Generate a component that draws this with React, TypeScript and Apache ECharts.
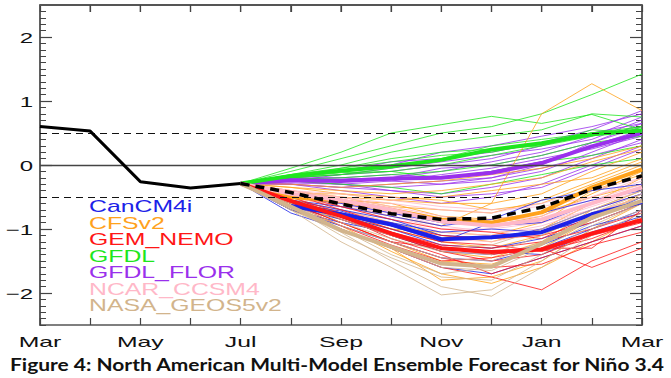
import React, { useEffect, useRef } from "react";
import * as echarts from "echarts";

const monthNames = ["Mar", "Apr", "May", "Jun", "Jul", "Aug", "Sep", "Oct", "Nov", "Dec", "Jan", "Feb", "Mar"];
const xLabelIdx = [0, 2, 4, 6, 8, 10, 12];
const yTickValues = [-2, -1, 0, 1, 2];
const observed = [0.6, 0.53, -0.26, -0.36, -0.29];
const forecastStart = 4; // Jul

const canMembers = [
  [-0.29, -0.55, -0.65, -0.8, -0.95, -0.85, -0.55, -0.4, -0.3],
  [-0.29, -0.6, -0.8, -1.0, -1.25, -1.3, -1.15, -0.9, -0.6],
  [-0.29, -0.7, -0.95, -1.2, -1.45, -1.5, -1.3, -1.0, -0.7],
  [-0.29, -0.5, -0.6, -0.75, -0.9, -0.95, -0.9, -0.6, -0.35],
  [-0.29, -0.65, -0.85, -1.1, -1.35, -1.4, -1.25, -0.95, -0.75],
  [-0.29, -0.6, -0.75, -0.9, -1.05, -1.0, -1.05, -0.85, -0.5],
  [-0.29, -0.75, -1.0, -1.3, -1.6, -1.7, -1.45, -1.2, -0.95],
  [-0.29, -0.55, -0.7, -0.85, -1.1, -1.15, -1.0, -0.7, -0.45],
  [-0.29, -0.6, -0.72, -0.95, -1.2, -0.9, -0.75, -0.55, -0.4],
  [-0.29, -0.7, -0.9, -1.05, -1.3, -1.35, -1.4, -1.05, -0.8],
];
const cfsMembers = [
  [-0.29, -0.3, -0.35, -0.3, -0.25, -0.15, -0.05, 0.1, 0.3],
  [-0.29, -0.4, -0.5, -0.55, -0.6, -0.6, -0.45, -0.1, 0.2],
  [-0.29, -0.5, -0.65, -0.8, -0.95, -0.6, 0.8, 1.27, 0.85],
  [-0.29, -0.6, -0.85, -1.1, -1.35, -1.45, -1.2, -0.7, -0.4],
  [-0.29, -0.55, -0.7, -0.9, -1.1, -1.2, -1.0, -0.6, -0.2],
  [-0.29, -0.7, -1.0, -1.3, -1.8, -1.75, -1.5, -1.0, -0.6],
  [-0.29, -0.45, -0.45, -0.5, -0.55, -0.7, -0.6, -0.3, 0.0],
  [-0.29, -0.35, -0.4, -0.45, -0.4, -0.3, -0.2, 0.05, 0.25],
  [-0.29, -0.6, -0.8, -1.0, -1.2, -1.3, -1.1, -0.75, -0.5],
  [-0.29, -0.65, -0.95, -1.35, -1.7, -1.85, -1.6, -1.2, -0.8],
  [-0.29, -0.5, -0.6, -0.7, -0.85, -0.95, -0.8, -0.45, -0.1],
  [-0.29, -0.45, -0.5, -0.65, -0.7, -0.75, -0.55, -0.25, 0.05],
  [-0.29, -0.55, -0.75, -1.0, -1.05, -1.1, -0.9, -0.4, -0.15],
  [-0.29, -0.4, -0.55, -0.6, -0.8, -0.85, -0.75, -0.5, -0.3],
  [-0.29, -0.6, -0.9, -1.2, -1.5, -1.55, -1.3, -0.85, -0.45],
  [-0.29, -0.35, -0.45, -0.55, -0.5, -0.4, -0.3, -0.2, 0.1],
];
const gemMembers = [
  [-0.29, -0.5, -0.8, -1.05, -1.25, -1.3, -1.2, -1.0, -0.75],
  [-0.29, -0.6, -0.9, -1.2, -1.45, -1.6, -1.55, -1.25, -1.05],
  [-0.29, -0.55, -0.85, -1.1, -1.35, -1.5, -1.4, -1.1, -0.9],
  [-0.29, -0.45, -0.7, -0.95, -1.1, -1.15, -1.1, -0.9, -0.6],
  [-0.29, -0.65, -1.0, -1.3, -1.6, -1.75, -1.95, -1.5, -1.2],
  [-0.29, -0.5, -0.75, -1.0, -1.2, -1.25, -1.35, -1.15, -0.85],
  [-0.29, -0.6, -0.95, -1.25, -1.5, -1.45, -1.3, -1.6, -1.3],
  [-0.29, -0.45, -0.65, -0.85, -1.0, -1.05, -1.15, -0.8, -0.55],
  [-0.29, -0.55, -0.8, -1.15, -1.4, -1.7, -1.45, -1.2, -0.95],
  [-0.29, -0.6, -0.9, -1.2, -1.3, -1.4, -1.3, -1.3, -0.7],
];
const gfdlMembers = [
  [-0.29, -0.1, 0.1, 0.3, 0.5, 0.6, 0.8, 1.1, 1.42],
  [-0.29, -0.05, 0.2, 0.5, 0.63, 0.76, 0.65, 0.79, 0.55],
  [-0.29, -0.15, 0.0, 0.2, 0.35, 0.45, 0.55, 0.8, 0.75],
  [-0.29, -0.2, -0.15, -0.05, 0.1, 0.3, 0.4, 0.5, 0.6],
  [-0.29, -0.22, -0.2, -0.15, -0.1, 0.0, 0.15, 0.35, 0.45],
  [-0.29, -0.25, -0.3, -0.35, -0.45, -0.3, -0.15, 0.0, 0.1],
  [-0.29, -0.18, -0.05, 0.1, 0.2, 0.25, 0.3, 0.45, 0.6],
  [-0.29, -0.2, -0.12, -0.1, -0.2, -0.1, 0.05, 0.15, 0.3],
  [-0.29, -0.15, -0.05, 0.05, 0.15, 0.2, 0.35, 0.5, 0.55],
  [-0.29, -0.2, -0.15, -0.1, 0.0, 0.15, 0.3, 0.55, 0.5],
];
const florMembers = [
  [-0.29, -0.2, -0.1, 0.0, 0.2, 0.3, 0.45, 0.6, 0.8],
  [-0.29, -0.25, -0.25, -0.2, -0.1, 0.05, 0.2, 0.45, 0.75],
  [-0.29, -0.3, -0.35, -0.4, -0.45, -0.35, -0.2, 0.1, 0.4],
  [-0.29, -0.2, -0.15, -0.1, 0.0, 0.1, 0.3, 0.5, 0.65],
  [-0.29, -0.3, -0.4, -0.5, -0.6, -0.5, -0.3, 0.0, 0.3],
  [-0.29, -0.22, -0.2, -0.15, -0.2, -0.1, 0.05, 0.3, 0.55],
  [-0.29, -0.25, -0.3, -0.35, -0.3, -0.25, -0.1, 0.2, 0.5],
  [-0.29, -0.18, -0.1, 0.05, 0.1, 0.2, 0.35, 0.55, 0.85],
  [-0.29, -0.28, -0.3, -0.25, -0.15, -0.05, 0.1, 0.25, 0.45],
  [-0.29, -0.2, -0.2, -0.25, -0.3, -0.2, 0.0, 0.35, 0.6],
  [-0.29, -0.3, -0.35, -0.3, -0.25, -0.2, -0.05, 0.15, 0.35],
  [-0.29, -0.25, -0.15, -0.05, 0.05, 0.15, 0.25, 0.4, 0.7],
  [-0.29, -0.25, -0.3, -0.4, -0.5, -0.45, -0.35, -0.05, 0.25],
  [-0.29, -0.2, -0.25, -0.2, -0.05, 0.0, 0.15, 0.35, 0.65],
];
const ncarMembers = [
  [-0.29, -0.4, -0.5, -0.6, -0.7, -0.75, -0.6, -0.4, -0.2],
  [-0.29, -0.45, -0.55, -0.7, -0.85, -0.95, -0.85, -0.6, -0.35],
  [-0.29, -0.5, -0.65, -0.85, -1.05, -1.1, -0.95, -0.7, -0.45],
  [-0.29, -0.4, -0.45, -0.55, -0.65, -0.7, -0.65, -0.5, -0.25],
  [-0.29, -0.5, -0.6, -0.75, -0.95, -1.05, -1.0, -0.75, -0.5],
  [-0.29, -0.45, -0.6, -0.8, -1.0, -1.0, -0.9, -0.65, -0.4],
  [-0.29, -0.4, -0.55, -0.7, -0.9, -0.85, -0.75, -0.55, -0.3],
  [-0.29, -0.55, -0.7, -0.9, -1.15, -1.2, -1.05, -0.8, -0.55],
  [-0.29, -0.45, -0.5, -0.65, -0.8, -0.9, -0.8, -0.5, -0.2],
  [-0.29, -0.5, -0.65, -0.75, -0.9, -0.95, -0.9, -0.7, -0.45],
];
const nasaMembers = [
  [-0.29, -0.6, -1.0, -1.3, -1.6, -1.65, -1.3, -0.9, -0.6],
  [-0.29, -0.7, -1.2, -1.6, -2.03, -1.95, -1.5, -1.0, -0.7],
  [-0.29, -0.55, -0.9, -1.15, -1.35, -1.4, -1.1, -0.75, -0.45],
  [-0.29, -0.65, -1.1, -1.45, -1.75, -1.8, -1.4, -0.95, -0.6],
  [-0.29, -0.6, -0.95, -1.2, -1.45, -1.5, -1.2, -0.8, -0.5],
  [-0.29, -0.7, -1.05, -1.5, -1.9, -2.05, -1.6, -1.1, -0.75],
  [-0.29, -0.5, -0.85, -1.1, -1.3, -1.25, -1.0, -0.7, -0.4],
  [-0.29, -0.65, -1.0, -1.4, -1.7, -1.6, -1.25, -0.85, -0.55],
];

const canMean = [null, -0.64, -0.77, -0.93, -1.16, -1.13, -1.05, -0.77, -0.58];
const cfsMean = [-0.29, -0.5, -0.56, -0.7, -0.85, -0.9, -0.74, -0.35, -0.07];
const gemMean = [-0.29, -0.56, -0.8, -1.07, -1.3, -1.36, -1.32, -1.07, -0.86];
const gfdlMean = [-0.29, -0.17, -0.09, -0.02, 0.08, 0.24, 0.34, 0.48, 0.54];
const florMean = [-0.29, -0.24, -0.25, -0.21, -0.2, -0.12, 0.03, 0.29, 0.5];
const ncarMean = [-0.29, -0.45, -0.55, -0.7, -0.88, -0.95, -0.85, -0.6, -0.35];
const nasaMean = [-0.29, -0.65, -1.02, -1.28, -1.54, -1.59, -1.23, -0.82, -0.56];
const allMean = [-0.29, -0.43, -0.61, -0.76, -0.85, -0.83, -0.66, -0.38, -0.17];

const modelNames = ["CanCM4i", "CFSv2", "GEM_NEMO", "GFDL", "GFDL_FLOR", "NCAR_CCSM4", "NASA_GEOS5v2"];
const modelColors = ["#1c22e8", "#ffa21c", "#ff1616", "#1ee61e", "#9a30ec", "#ffb8c8", "#d2b48c"];
const titleText = "Figure 4: North American Multi-Model Ensemble Forecast for Ni\u00f1o 3.4";

const toPts = (vals: (number | null)[], start: number) => vals.map((v, i) => [start + i, v]);

export default function App() {
  const ref = useRef<HTMLDivElement>(null);
  useEffect(() => {
    if (!ref.current) return;
    const chart = echarts.init(ref.current, undefined, { renderer: "svg" });
    const allMembers = [canMembers, cfsMembers, gemMembers, gfdlMembers, florMembers, ncarMembers, nasaMembers];
    const means = [canMean, cfsMean, gemMean, gfdlMean, florMean, ncarMean, nasaMean];
    const drawOrder = [4, 3, 1, 5, 0, 2, 6];
    const series: any[] = [];
    drawOrder.forEach((m) => {
      allMembers[m].forEach((mem) => {
        series.push({
          type: "line", data: toPts(mem, forecastStart), symbol: "none", silent: true, z: 2,
          lineStyle: { width: 1, color: modelColors[m], opacity: 0.8 },
        });
      });
    });
    drawOrder.forEach((m) => {
      series.push({
        type: "line", data: toPts(means[m], forecastStart), symbol: "none", silent: true, z: 3,
        lineStyle: { width: 4, color: modelColors[m] },
      });
    });
    series.push({
      type: "line", data: toPts(allMean, forecastStart), symbol: "none", silent: true, z: 4,
      lineStyle: { width: 3.5, color: "#000", type: [9, 6] },
    });
    series.push({
      type: "line", data: toPts(observed, 0), symbol: "none", silent: true, z: 5,
      lineStyle: { width: 3, color: "#000" },
      markLine: {
        silent: true, symbol: "none", label: { show: false },
        data: [
          { yAxis: 0.5, lineStyle: { color: "#111", width: 1.2, type: [7, 5] } },
          { yAxis: -0.5, lineStyle: { color: "#111", width: 1.2, type: [7, 5] } },
          { yAxis: 0, lineStyle: { color: "#444", width: 1.3, type: "solid" } },
        ],
      },
    });

    const mkLine = () => ({ show: true, onZero: false, lineStyle: { color: "#555", width: 1.5 } });
    const xAx = (pos: string) => ({
      type: "value", position: pos, min: 0, max: 12, interval: 1, gridIndex: 0,
      axisLine: mkLine(), axisTick: { show: true, inside: true, length: 7, lineStyle: { color: "#444", width: 1.2 } },
      axisLabel: { show: false }, splitLine: { show: false },
    });
    const yMajor = (pos: string) => ({
      type: "value", position: pos, min: -2.5, max: 2.5, gridIndex: 0,
      axisLine: mkLine(), axisTick: { show: true, inside: true, length: 12, customValues: yTickValues, lineStyle: { color: "#444", width: 1.2 } },
      axisLabel: { show: false }, splitLine: { show: false },
    });
    const yMinor = (pos: string) => ({
      type: "value", position: pos, min: -2.5, max: 2.5, interval: 0.1, gridIndex: 0,
      axisLine: mkLine(), axisTick: { show: true, inside: true, length: 6, lineStyle: { color: "#444", width: 1 } },
      axisLabel: { show: false }, splitLine: { show: false },
    });

    chart.setOption({
      animation: false,
      grid: { left: 40, right: 29, top: 5, bottom: 53 },
      xAxis: [xAx("bottom"), xAx("top")],
      yAxis: [yMajor("left"), yMinor("left"), yMajor("right"), yMinor("right")],
      series,
    });

    const graphics: any[] = [];
    const tl = chart.convertToPixel({ xAxisIndex: 0, yAxisIndex: 0 }, [0, 2.5]) as number[];
    const tr = chart.convertToPixel({ xAxisIndex: 0, yAxisIndex: 0 }, [12, 2.5]) as number[];
    graphics.push({
      type: "line", z: 50, silent: true,
      shape: { x1: tl[0], y1: tl[1], x2: tr[0], y2: tr[1] },
      style: { stroke: "#555", lineWidth: 2 },
    });
    for (let i = 1; i < 12; i++) {
      const p = chart.convertToPixel({ xAxisIndex: 0, yAxisIndex: 0 }, [i, 2.5]) as number[];
      graphics.push({
        type: "line", z: 50, silent: true,
        shape: { x1: p[0], y1: p[1], x2: p[0], y2: p[1] + 7 },
        style: { stroke: "#444", lineWidth: 1.2 },
      });
    }
    const labelFont = '15px "Liberation Sans", Arial, sans-serif';
    xLabelIdx.forEach((i) => {
      const p = chart.convertToPixel({ xAxisIndex: 0, yAxisIndex: 0 }, [i, -2.5]) as number[];
      graphics.push({
        type: "text", x: p[0], y: 342, scaleX: 1.65,
        style: { text: monthNames[i], font: labelFont, fill: "#111", textAlign: "center", textVerticalAlign: "middle" },
      });
    });
    yTickValues.forEach((v) => {
      const p = chart.convertToPixel({ xAxisIndex: 0, yAxisIndex: 0 }, [0, v]) as number[];
      graphics.push({
        type: "text", x: 33, y: p[1] + 1, scaleX: 1.6,
        style: { text: (v < 0 ? "\u2212" + Math.abs(v) : String(v)), font: labelFont, fill: "#111", textAlign: "right", textVerticalAlign: "middle" },
      });
    });
    modelNames.forEach((n, k) => {
      graphics.push({
        type: "text", x: 89, y: 206.5 + k * 16.5, scaleX: 1.55,
        style: { text: n, font: '16px "Liberation Sans", Arial, sans-serif', fill: modelColors[k], textAlign: "left", textVerticalAlign: "middle" },
      });
    });
    const titleFont = 'bold 17px Lato, "Open Sans", sans-serif';
    let sx = 1;
    try {
      const ctx = document.createElement("canvas").getContext("2d");
      if (ctx) {
        ctx.font = titleFont;
        const w = ctx.measureText(titleText).width;
        if (w > 0) sx = 655 / w;
      }
    } catch (e) {}
    graphics.push({
      type: "text", x: 10, y: 364, scaleX: sx,
      style: { text: titleText, font: titleFont, fill: "#111", textAlign: "left", textVerticalAlign: "middle" },
    });
    chart.setOption({ graphic: graphics });

    return () => chart.dispose();
  }, []);
  return <div ref={ref} style={{ position: "fixed", left: 0, top: 0, width: 671, height: 378, background: "#fff" }} />;
}
